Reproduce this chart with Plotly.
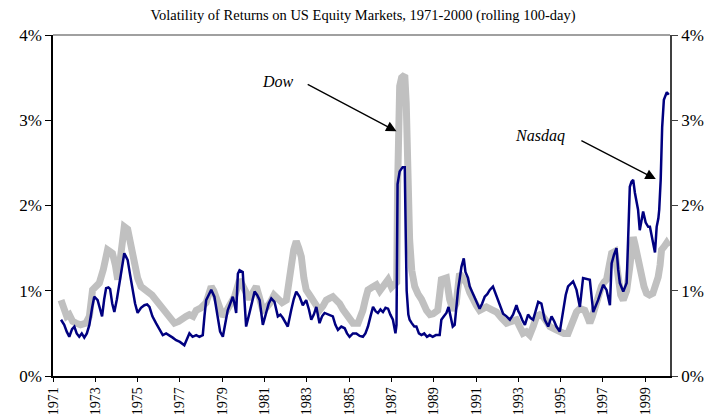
import plotly.graph_objects as go

# rolling 100-day volatility, %
nasdaq_t = [1971.38, 1971.53, 1971.65, 1971.77, 1971.90, 1972.01, 1972.12, 1972.24, 1972.36, 1972.48,
            1972.60, 1972.72, 1972.85, 1972.95, 1973.11, 1973.22, 1973.32, 1973.42, 1973.51, 1973.62,
            1973.70, 1973.80, 1973.90, 1974.02, 1974.14, 1974.26, 1974.37, 1974.45, 1974.53, 1974.65,
            1974.77, 1974.88, 1975.00, 1975.16, 1975.32, 1975.45, 1975.56, 1975.70, 1975.87, 1976.03,
            1976.19, 1976.35, 1976.50, 1976.66, 1976.82, 1977.00, 1977.21, 1977.33, 1977.45, 1977.60,
            1977.77, 1977.92, 1978.08, 1978.16, 1978.24, 1978.36, 1978.48, 1978.63, 1978.79, 1978.90,
            1979.03, 1979.15, 1979.26, 1979.38, 1979.50, 1979.58, 1979.66, 1979.74, 1979.82, 1979.97,
            1980.05, 1980.13, 1980.29, 1980.41, 1980.53, 1980.65, 1980.77, 1980.92, 1981.09, 1981.20,
            1981.32, 1981.47, 1981.63, 1981.75, 1981.87, 1982.10, 1982.26, 1982.38, 1982.50, 1982.66,
            1982.81, 1982.97, 1983.10, 1983.21, 1983.33, 1983.45, 1983.60, 1983.72, 1983.84, 1984.00,
            1984.23, 1984.35, 1984.47, 1984.63, 1984.79, 1984.90, 1985.02, 1985.18, 1985.34, 1985.50,
            1985.65, 1985.77, 1985.89, 1986.01, 1986.13, 1986.25, 1986.36, 1986.48, 1986.60, 1986.72,
            1986.84, 1986.95, 1987.07, 1987.19, 1987.24, 1987.29, 1987.39, 1987.53, 1987.63, 1987.68,
            1987.72, 1987.80, 1987.86, 1987.96, 1988.08, 1988.18, 1988.30, 1988.42, 1988.55, 1988.68,
            1988.81, 1988.95, 1989.10, 1989.28, 1989.36, 1989.48, 1989.60, 1989.70, 1989.80, 1989.90,
            1989.99, 1990.15, 1990.31, 1990.42, 1990.50, 1990.62, 1990.70, 1990.82, 1990.94, 1991.06,
            1991.17, 1991.29, 1991.41, 1991.53, 1991.65, 1991.80, 1991.92, 1992.04, 1992.16, 1992.28,
            1992.44, 1992.60, 1992.75, 1992.91, 1993.00, 1993.07, 1993.18, 1993.31, 1993.46, 1993.58,
            1993.70, 1993.82, 1993.94, 1994.09, 1994.25, 1994.41, 1994.57, 1994.70, 1994.80, 1994.96,
            1995.12, 1995.24, 1995.35, 1995.47, 1995.59, 1995.75, 1995.91, 1996.06, 1996.22, 1996.38,
            1996.54, 1996.66, 1996.77, 1997.01, 1997.17, 1997.33, 1997.41, 1997.52, 1997.64, 1997.72,
            1997.80, 1997.96, 1998.05, 1998.12, 1998.19, 1998.27, 1998.35, 1998.43, 1998.51, 1998.59,
            1998.66, 1998.74, 1998.82, 1998.90, 1999.02, 1999.14, 1999.22, 1999.30, 1999.38, 1999.46,
            1999.54, 1999.62, 1999.66, 1999.73, 1999.80, 1999.88, 2000.02, 2000.11]
nasdaq_v = [0.66, 0.60, 0.52, 0.46, 0.55, 0.58, 0.50, 0.46, 0.50, 0.45,
            0.50, 0.60, 0.80, 0.93, 0.89, 0.78, 0.70, 0.90, 1.03, 1.04,
            1.02, 0.85, 0.75, 0.90, 1.09, 1.30, 1.44, 1.40, 1.36, 1.18,
            1.01, 0.85, 0.74, 0.80, 0.83, 0.84, 0.81, 0.70, 0.62, 0.55,
            0.48, 0.50, 0.48, 0.45, 0.42, 0.40, 0.36, 0.44, 0.50, 0.46,
            0.48, 0.46, 0.48, 0.70, 0.89, 0.95, 1.01, 0.93, 0.66, 0.52,
            0.46, 0.62, 0.77, 0.85, 0.93, 0.85, 0.74, 1.20, 1.24, 1.22,
            0.90, 0.58, 0.74, 0.88, 0.99, 0.95, 0.89, 0.60, 0.74, 0.85,
            0.91, 0.87, 0.70, 0.72, 0.68, 0.58, 0.77, 0.90, 0.99, 0.93,
            0.83, 0.89, 0.78, 0.66, 0.72, 0.81, 0.62, 0.70, 0.74, 0.72,
            0.70, 0.60, 0.54, 0.58, 0.56, 0.50, 0.46, 0.50, 0.50, 0.47,
            0.46, 0.50, 0.58, 0.70, 0.81, 0.76, 0.74, 0.78, 0.75, 0.80,
            0.79, 0.72, 0.66, 0.50, 0.60, 2.25, 2.40, 2.45, 2.45, 1.60,
            1.00, 0.72, 0.66, 0.62, 0.58, 0.58, 0.50, 0.48, 0.50, 0.46,
            0.48, 0.46, 0.48, 0.48, 0.66, 0.70, 0.74, 0.81, 0.70, 0.58,
            0.60, 1.01, 1.28, 1.38, 1.22, 1.15, 1.05, 0.98, 0.93, 0.85,
            0.79, 0.85, 0.93, 0.96, 1.01, 1.05, 0.97, 0.89, 0.80, 0.73,
            0.70, 0.66, 0.72, 0.83, 0.76, 0.73, 0.66, 0.60, 0.72, 0.68,
            0.66, 0.78, 0.87, 0.85, 0.66, 0.58, 0.70, 0.64, 0.58, 0.52,
            0.77, 0.95, 1.05, 1.08, 1.11, 1.01, 0.81, 1.15, 1.14, 1.13,
            0.75, 0.82, 0.89, 1.07, 1.01, 0.83, 1.32, 1.42, 1.50, 1.25,
            1.09, 0.99, 1.05, 1.09, 1.60, 2.22, 2.28, 2.30, 2.15, 2.06,
            1.95, 1.71, 1.85, 1.93, 1.80, 1.75, 1.75, 1.65, 1.52, 1.45,
            1.75, 1.85, 1.95, 2.30, 2.92, 3.24, 3.33, 3.30]

dow_t = [1971.38, 1971.45, 1971.53, 1971.65, 1971.77, 1971.93, 1972.09, 1972.30, 1972.56, 1972.72,
         1972.87, 1973.03, 1973.19, 1973.38, 1973.50, 1973.58, 1973.70, 1973.81, 1973.95, 1974.06,
         1974.22, 1974.37, 1974.53, 1974.69, 1974.85, 1975.00, 1975.16, 1975.32, 1975.48, 1975.68,
         1975.87, 1976.05, 1976.27, 1976.50, 1976.74, 1976.94, 1977.13, 1977.30, 1977.45, 1977.62,
         1977.77, 1978.00, 1978.24, 1978.36, 1978.48, 1978.60, 1978.71, 1978.87, 1979.03, 1979.15,
         1979.26, 1979.42, 1979.58, 1979.70, 1979.82, 1979.97, 1980.13, 1980.29, 1980.45, 1980.61,
         1980.76, 1980.92, 1981.08, 1981.24, 1981.45, 1981.63, 1981.83, 1982.03, 1982.15, 1982.26,
         1982.38, 1982.50, 1982.62, 1982.74, 1982.86, 1982.97, 1983.13, 1983.29, 1983.45, 1983.60,
         1983.76, 1983.92, 1984.07, 1984.23, 1984.39, 1984.55, 1984.71, 1984.87, 1985.03, 1985.18,
         1985.42, 1985.53, 1985.65, 1985.77, 1985.89, 1986.09, 1986.29, 1986.45, 1986.60, 1986.72,
         1986.84, 1987.00, 1987.15, 1987.25, 1987.29, 1987.34, 1987.39, 1987.48, 1987.63, 1987.70,
         1987.77, 1987.86, 1987.96, 1988.10, 1988.26, 1988.42, 1988.66, 1988.82, 1988.97, 1989.19,
         1989.30, 1989.36, 1989.60, 1989.66, 1989.75, 1989.91, 1990.06, 1990.22, 1990.40, 1990.55,
         1990.70, 1990.86, 1991.01, 1991.17, 1991.33, 1991.49, 1991.73, 1991.97, 1992.20, 1992.44,
         1992.68, 1992.91, 1993.06, 1993.22, 1993.38, 1993.54, 1993.70, 1993.86, 1994.01, 1994.16,
         1994.33, 1994.49, 1994.72, 1994.96, 1995.15, 1995.35, 1995.47, 1995.59, 1995.75, 1995.91,
         1996.14, 1996.26, 1996.38, 1996.50, 1996.62, 1996.78, 1996.93, 1997.05, 1997.17, 1997.30,
         1997.41, 1997.56, 1997.64, 1997.72, 1997.84, 1997.96, 1998.12, 1998.27, 1998.35, 1998.43,
         1998.51, 1998.59, 1998.70, 1998.82, 1998.94, 1999.06, 1999.20, 1999.36, 1999.50, 1999.61,
         1999.70, 1999.77, 1999.90, 2000.01, 2000.11]
dow_v = [0.89, 0.85, 0.80, 0.70, 0.72, 0.64, 0.62, 0.60, 0.62, 0.70,
         1.01, 1.05, 1.09, 1.25, 1.42, 1.48, 1.46, 1.44, 1.30, 1.13,
         1.45, 1.75, 1.72, 1.50, 1.28, 1.15, 1.05, 1.02, 0.99, 0.95,
         0.89, 0.84, 0.77, 0.70, 0.62, 0.64, 0.66, 0.70, 0.72, 0.70,
         0.77, 0.80, 0.86, 0.97, 1.05, 1.00, 0.93, 0.80, 0.70, 0.74,
         0.81, 0.86, 0.93, 1.02, 1.13, 1.06, 0.97, 0.90, 0.98, 1.05,
         0.92, 0.77, 0.80, 0.85, 0.95, 0.91, 0.86, 0.89, 1.05, 1.28,
         1.48, 1.58, 1.50, 1.40, 1.15, 1.01, 0.95, 0.89, 0.83, 0.77,
         0.82, 0.89, 0.91, 0.93, 0.89, 0.85, 0.78, 0.73, 0.66, 0.62,
         0.62, 0.68, 0.77, 0.90, 1.01, 1.04, 1.07, 1.00, 1.05, 1.08,
         1.13, 1.04, 1.09, 1.10, 2.20, 3.00, 3.40, 3.50, 3.53, 3.20,
         2.30, 1.60, 1.24, 1.05, 0.96, 0.90, 0.77, 0.72, 0.73, 0.77,
         1.00, 1.13, 1.15, 0.93, 0.90, 0.77, 0.85, 1.20, 1.15, 1.09,
         0.98, 0.89, 0.83, 0.77, 0.80, 0.81, 0.78, 0.75, 0.68, 0.62,
         0.64, 0.66, 0.58, 0.50, 0.52, 0.48, 0.58, 0.70, 0.72, 0.70,
         0.64, 0.58, 0.55, 0.52, 0.50, 0.50, 0.58, 0.66, 0.75, 0.79,
         0.77, 0.70, 0.62, 0.70, 0.81, 0.95, 1.05, 1.10, 1.13, 1.30,
         1.44, 1.46, 1.30, 1.05, 0.95, 0.89, 1.00, 1.28, 1.50, 1.63,
         1.55, 1.44, 1.30, 1.16, 1.05, 0.97, 0.95, 0.97, 1.05, 1.16,
         1.30, 1.48, 1.52, 1.56, 1.52]

year_ticks = list(range(1971, 2000, 2))
pct_ticks = [0, 1, 2, 3, 4]

serif = "Liberation Serif, Times New Roman, serif"

fig = go.Figure()
fig.add_trace(go.Scatter(x=dow_t, y=dow_v, name="Dow", mode="lines",
                         line=dict(color="rgb(192,192,192)", width=7)))
# Nasdaq sits on the right-hand axis (same 0-4% scale) so that axis gets drawn
fig.add_trace(go.Scatter(x=nasdaq_t, y=nasdaq_v, name="Nasdaq", mode="lines", yaxis="y2",
                         line=dict(color="rgb(0,0,128)", width=2.5)))

arrows = [
    # (head x, head y, tail x, tail y)
    (1987.24, 2.87, 1982.97, 3.43),
    (1999.50, 2.31, 1995.91, 2.77),
]
annotations = []
for hx, hy, tx, ty in arrows:
    annotations.append(dict(x=hx, y=hy, ax=tx, ay=ty, xref="x", yref="y", axref="x", ayref="y",
                            text="", showarrow=True, arrowhead=2, arrowsize=1.6, arrowwidth=1.3,
                            arrowcolor="black"))
annotations.append(dict(x=1981.66, y=3.46, xref="x", yref="y", text="<i>Dow</i>", showarrow=False,
                        font=dict(family=serif, size=16, color="black")))
annotations.append(dict(x=1994.01, y=2.82, xref="x", yref="y", text="<i>Nasdaq</i>", showarrow=False,
                        font=dict(family=serif, size=16, color="black")))

# the page body adds an 8px margin, so the figure is 8px smaller than the window
fig.update_layout(
    width=710, height=409,
    margin=dict(l=45, r=48, t=27, b=41),
    paper_bgcolor="white", plot_bgcolor="white",
    showlegend=False,
    font=dict(family=serif, color="black"),
    title=dict(text="Volatility of Returns on US Equity Markets, 1971-2000 (rolling 100-day)",
               x=0.5, xanchor="center", y=0.983, yanchor="middle", yref="container",
               font=dict(family=serif, size=14.5, color="black")),
    xaxis=dict(range=[1971, 2000.17], tickvals=year_ticks, ticktext=[str(y) for y in year_ticks],
               tickangle=-90, ticks="outside", ticklen=4, tickcolor="black", automargin=False,
               showline=True, linecolor="black", linewidth=1.5, showgrid=False, zeroline=False,
               tickfont=dict(family=serif, size=14, color="black")),
    yaxis=dict(range=[0, 4], tickvals=pct_ticks, ticktext=[f"{p}%" for p in pct_ticks],
               ticks="outside", ticklen=6, tickcolor="black", automargin=False,
               showline=True, linecolor="black", linewidth=1.5, showgrid=False, zeroline=False,
               tickfont=dict(family=serif, size=17, color="black")),
    yaxis2=dict(range=[0, 4], tickvals=pct_ticks, ticktext=[f"{p}%" for p in pct_ticks],
                overlaying="y", side="right", anchor="x", automargin=False,
                ticks="outside", ticklen=6, tickcolor="#404040",
                showline=True, linecolor="#404040", linewidth=1.5, showgrid=False, zeroline=False,
                tickfont=dict(family=serif, size=17, color="black")),
    shapes=[dict(type="line", xref="paper", yref="paper", x0=0, x1=1, y0=1, y1=1,
                 line=dict(color="#808080", width=1.5))],
    annotations=annotations,
)

fig.write_html("out.html")
